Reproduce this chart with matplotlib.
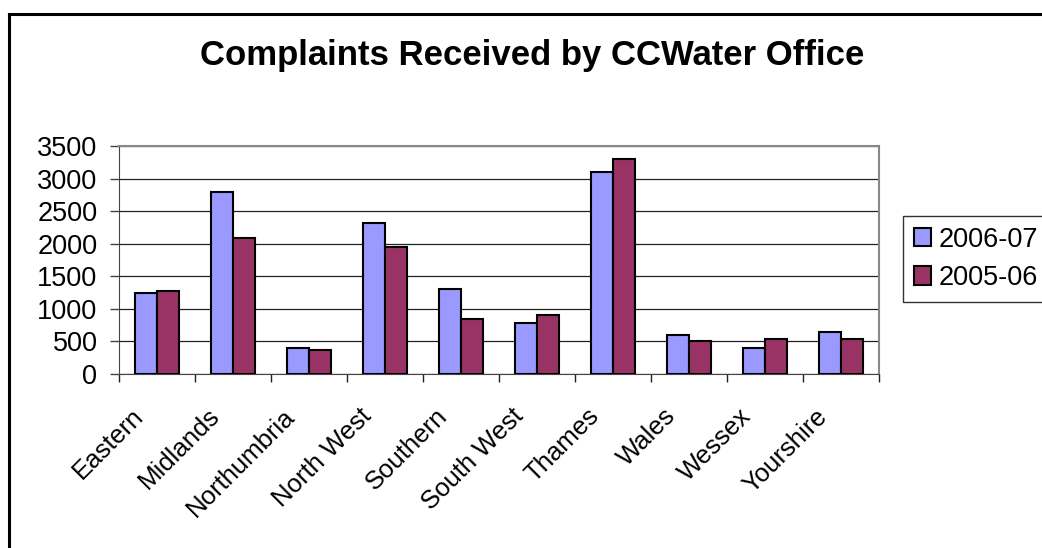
import numpy as np
import matplotlib
matplotlib.use("Agg")
import matplotlib.pyplot as plt
from matplotlib.lines import Line2D
from matplotlib.transforms import ScaledTranslation

# Data
regions = ["Eastern", "Midlands", "Northumbria", "North West", "Southern",
           "South West", "Thames", "Wales", "Wessex", "Yourshire"]
complaints_0607 = [1240, 2800, 400, 2320, 1310, 780, 3100, 605, 405, 645]
complaints_0506 = [1270, 2090, 370, 1955, 840, 910, 3295, 505, 535, 535]
series_labels = ["2006-07", "2005-06"]
y_ticks = [0, 500, 1000, 1500, 2000, 2500, 3000, 3500]

plt.rcParams['font.family'] = ['Liberation Sans', 'DejaVu Sans']

W, H = 1042, 548
fig = plt.figure(figsize=(W / 100, H / 100), dpi=100)
ax = fig.add_axes([119 / W, 1 - 374 / H, (879 - 119) / W, (374 - 146) / H])

x = np.arange(len(regions))
bw = 0.29
ax.bar(x - bw / 2, complaints_0607, bw, color="#9999FF", edgecolor="black",
       linewidth=1.5, label=series_labels[0], zorder=3)
ax.bar(x + bw / 2, complaints_0506, bw, color="#993366", edgecolor="black",
       linewidth=1.5, label=series_labels[1], zorder=3)

ax.set_xlim(-0.5, len(regions) - 0.5)
ax.set_ylim(0, 3500)
ax.set_yticks(y_ticks)
ax.tick_params(axis="y", labelsize=19.5, length=6.5, width=1, pad=9, color="#444444")
ax.yaxis.grid(True, color="#222222", linewidth=0.9, zorder=0)

# category labels at centres, ticks at the category boundaries
ax.set_xticks(x)
ax.set_xticklabels(regions, rotation=45, ha="right", va="top",
                   rotation_mode="anchor", fontsize=18.5)
ax.tick_params(axis="x", which="major", length=0, pad=0)
ax.set_xticks(np.arange(-0.5, len(regions)), minor=True)
ax.tick_params(axis="x", which="minor", length=6, width=1, color="#222222")
off = ScaledTranslation(-0.26, -0.30, fig.dpi_scale_trans)
for lbl in ax.get_xticklabels():
    lbl.set_transform(lbl.get_transform() + off)

for side in ["top", "right"]:
    ax.spines[side].set_color("#888888")
    ax.spines[side].set_linewidth(1.5)
ax.spines["left"].set_color("#444444")
ax.spines["bottom"].set_color("#444444")

fig.suptitle("Complaints Received by CCWater Office", x=532 / W, y=1 - 56 / H,
             va="center", fontsize=25, fontweight="bold")

leg = fig.legend(loc="upper left", bbox_to_anchor=(903 / W, 1 - 216 / H),
                 fontsize=19.5, frameon=True, fancybox=False, shadow=False,
                 handlelength=0.65, handleheight=0.65, handletextpad=0.25,
                 labelspacing=0.45, borderpad=0.4, borderaxespad=0)
leg.get_frame().set_edgecolor("black")
leg.get_frame().set_linewidth(1.0)

# outer chart frame (cropped at right and bottom)
fig.add_artist(Line2D([9 / W, 9 / W], [0, 1 - 14 / H], color="black", lw=2.2,
                      transform=fig.transFigure))
fig.add_artist(Line2D([9 / W, 1], [1 - 14 / H, 1 - 14 / H], color="black", lw=2.2,
                      transform=fig.transFigure))

fig.savefig("out.png", dpi=100)
